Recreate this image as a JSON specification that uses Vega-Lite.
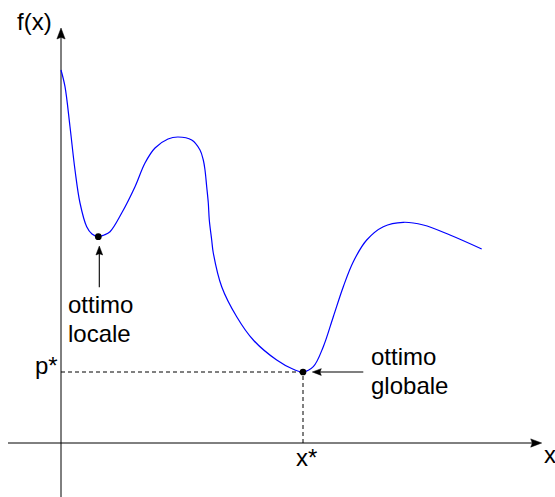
{
  "$schema": "https://vega.github.io/schema/vega-lite/v6.json",
  "width": 555,
  "height": 497,
  "autosize": "none",
  "padding": 0,
  "background": "white",
  "config": {"view": {"stroke": null}},
  "datasets": {
    "curve": [
      {"x": 0, "y": 373}, {"x": 4, "y": 356.3}, {"x": 9, "y": 316.3}, {"x": 14, "y": 273},
      {"x": 19, "y": 240}, {"x": 25.7, "y": 216.3}, {"x": 31, "y": 209}, {"x": 37.3, "y": 206.3},
      {"x": 43, "y": 208}, {"x": 49, "y": 211.3}, {"x": 60.7, "y": 230}, {"x": 74, "y": 256.3},
      {"x": 84, "y": 280}, {"x": 94, "y": 295}, {"x": 107, "y": 304}, {"x": 117, "y": 306},
      {"x": 130.7, "y": 303}, {"x": 139, "y": 293}, {"x": 142.3, "y": 283}, {"x": 144, "y": 273},
      {"x": 145.7, "y": 256.3}, {"x": 147.3, "y": 240}, {"x": 148.3, "y": 223}, {"x": 150.7, "y": 203},
      {"x": 152.3, "y": 190}, {"x": 160.7, "y": 156.3}, {"x": 175.7, "y": 126.3}, {"x": 192.3, "y": 103},
      {"x": 215.7, "y": 83}, {"x": 232.3, "y": 73.7}, {"x": 242, "y": 71}, {"x": 252.3, "y": 76.3},
      {"x": 262.3, "y": 96.3}, {"x": 272.3, "y": 126.3}, {"x": 282.3, "y": 156.3}, {"x": 292.3, "y": 181.3},
      {"x": 305.7, "y": 203}, {"x": 322.3, "y": 216.3}, {"x": 342.3, "y": 220.7}, {"x": 362.3, "y": 218},
      {"x": 389, "y": 208}, {"x": 420.7, "y": 194}
    ],
    "axisLines": [
      {"x": 0, "y": -54, "x2": 0, "y2": 408},
      {"x": -53, "y": 0, "x2": 474, "y2": 0}
    ],
    "guides": [
      {"x": 0, "y": 71, "x2": 242, "y2": 71},
      {"x": 242, "y": 0, "x2": 242, "y2": 71}
    ],
    "pointers": [
      {"x": 38.3, "y": 155.7, "x2": 38.3, "y2": 193},
      {"x": 255, "y": 71, "x2": 302.3, "y2": 71}
    ],
    "axisHeads": [
      {"x": 0, "y": 415, "dir": "up"},
      {"x": 480.7, "y": 0, "dir": "right"}
    ],
    "pointerHeads": [
      {"x": 38.3, "y": 197, "dir": "up"},
      {"x": 251.3, "y": 71, "dir": "left"}
    ],
    "optima": [
      {"x": 37.3, "y": 206.3, "kind": "locale"},
      {"x": 242, "y": 71, "kind": "globale"}
    ],
    "labels": [
      {"x": -44, "y": 413, "text": "f(x)"},
      {"x": 7, "y": 130.3, "text": "ottimo"},
      {"x": 7, "y": 101.3, "text": "locale"},
      {"x": 310, "y": 78, "text": "ottimo"},
      {"x": 310, "y": 49, "text": "globale"},
      {"x": -26, "y": 69, "text": "p*"},
      {"x": 235, "y": -23, "text": "x*"},
      {"x": 483, "y": -20, "text": "x"}
    ]
  },
  "layer": [
    {
      "data": {"name": "axisLines"},
      "mark": {"type": "rule", "color": "black", "strokeWidth": 1},
      "encoding": {
        "x": {"field": "x", "type": "quantitative", "scale": {"domain": [-61, 494], "nice": false, "zero": false}, "axis": null},
        "y": {"field": "y", "type": "quantitative", "scale": {"domain": [-54, 443], "nice": false, "zero": false}, "axis": null},
        "x2": {"field": "x2"},
        "y2": {"field": "y2"}
      }
    },
    {
      "data": {"name": "guides"},
      "mark": {"type": "rule", "color": "black", "strokeWidth": 1, "strokeDash": [4, 3]},
      "encoding": {
        "x": {"field": "x", "type": "quantitative"},
        "y": {"field": "y", "type": "quantitative"},
        "x2": {"field": "x2"},
        "y2": {"field": "y2"}
      }
    },
    {
      "data": {"name": "pointers"},
      "mark": {"type": "rule", "color": "black", "strokeWidth": 1.1},
      "encoding": {
        "x": {"field": "x", "type": "quantitative"},
        "y": {"field": "y", "type": "quantitative"},
        "x2": {"field": "x2"},
        "y2": {"field": "y2"}
      }
    },
    {
      "data": {"name": "axisHeads"},
      "mark": {"type": "point", "filled": true, "fill": "black", "stroke": "black", "strokeWidth": 0.5, "opacity": 1, "size": 121},
      "encoding": {
        "x": {"field": "x", "type": "quantitative"},
        "y": {"field": "y", "type": "quantitative"},
        "shape": {"field": "dir", "type": "nominal", "legend": null, "scale": {"domain": ["up", "right", "left"], "range": ["M0,0L0.75,2L0,1.7L-0.75,2Z", "M0,0L-2,0.75L-1.7,0L-2,-0.75Z", "M0,0L2,0.75L1.7,0L2,-0.75Z"]}}
      }
    },
    {
      "data": {"name": "pointerHeads"},
      "mark": {"type": "point", "filled": true, "fill": "black", "stroke": "black", "strokeWidth": 0.5, "opacity": 1, "size": 81},
      "encoding": {
        "x": {"field": "x", "type": "quantitative"},
        "y": {"field": "y", "type": "quantitative"},
        "shape": {"field": "dir", "type": "nominal", "legend": null}
      }
    },
    {
      "data": {"name": "curve"},
      "mark": {"type": "line", "color": "#0000ff", "strokeWidth": 1.2, "interpolate": "catmull-rom"},
      "encoding": {
        "x": {"field": "x", "type": "quantitative"},
        "y": {"field": "y", "type": "quantitative"}
      }
    },
    {
      "data": {"name": "optima"},
      "mark": {"type": "point", "shape": "circle", "filled": true, "color": "black", "opacity": 1, "size": 45},
      "encoding": {
        "x": {"field": "x", "type": "quantitative"},
        "y": {"field": "y", "type": "quantitative"}
      }
    },
    {
      "data": {"name": "labels"},
      "mark": {"type": "text", "align": "left", "baseline": "alphabetic", "font": "Liberation Sans", "fontSize": 24, "color": "black"},
      "encoding": {
        "x": {"field": "x", "type": "quantitative"},
        "y": {"field": "y", "type": "quantitative"},
        "text": {"field": "text"}
      }
    }
  ]
}
